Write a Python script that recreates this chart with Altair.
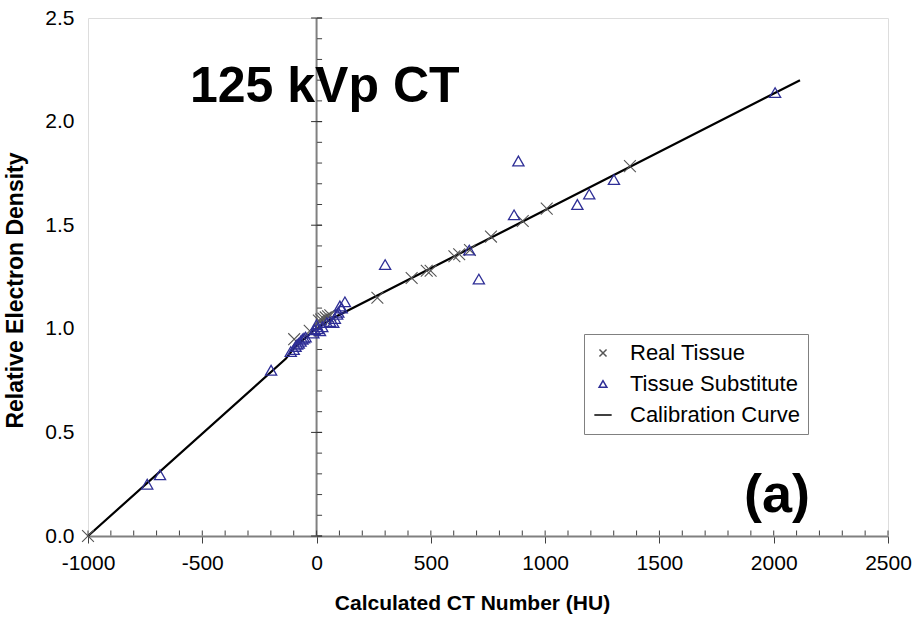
import altair as alt
import pandas as pd

# ---- data ----
rt_hu = [-1000, -98, -30, 10, 20, 30, 40, 50, 60, 266, 416, 482, 499, 603, 624, 671, 763, 902, 1007, 1371]
rt_rho = [0.00, 0.95, 0.99, 1.04, 1.045, 1.05, 1.055, 1.06, 1.065, 1.15, 1.245, 1.28, 1.28, 1.35, 1.36, 1.38, 1.445, 1.52, 1.58, 1.785]

ts_hu = [-741, -685, -199, -113, -100, -92, -85, -78, -70, -62, -55, -48, -14, -8, 0, 5, 15, 25,
         45, 59, 73, 80, 90, 95, 102, 110, 124, 300, 668, 710, 864, 883, 1141, 1193, 1301, 2006]
ts_rho = [0.25, 0.295, 0.80, 0.89, 0.90, 0.915, 0.925, 0.93, 0.94, 0.95, 0.955, 0.96, 0.98, 0.995, 1.02, 1.00, 0.99, 1.01,
          1.03, 1.035, 1.03, 1.05, 1.07, 1.08, 1.11, 1.10, 1.13, 1.31, 1.38, 1.24, 1.55, 1.81, 1.60, 1.65, 1.72, 2.14]

cal_hu = [-1000, -135, -100, -20, 60, 2115]
cal_rho = [0.0, 0.855, 0.905, 0.985, 1.045, 2.2]

series_names = ["Real Tissue", "Tissue Substitute", "Calibration Curve"]
x_major = [-1000, -500, 0, 500, 1000, 1500, 2000, 2500]
x_minor = list(range(-1000, 2501, 100))
y_major = [0.0, 0.5, 1.0, 1.5, 2.0, 2.5]
y_minor = [round(i / 10, 1) for i in range(0, 26)]

FONT = "Liberation Sans"
XPATH = "M-1,-1L1,1M1,-1L-1,1"

xs = alt.Scale(domain=[-1000, 2500], nice=False, zero=False)
ys = alt.Scale(domain=[0, 2.5], nice=False, zero=False)

rt = pd.DataFrame({"hu": rt_hu, "rho": rt_rho})
ts = pd.DataFrame({"hu": ts_hu, "rho": ts_rho})
cal = pd.DataFrame({"hu": cal_hu, "rho": cal_rho})

x_enc = alt.X("hu:Q", scale=xs,
              axis=alt.Axis(values=x_major, labelExpr="'' + datum.value", tickSize=7,
                            tickColor="#404040", domainColor="#808080", domainWidth=2, grid=False,
                            labelFontSize=21, labelFont=FONT, labelColor="black",
                            labelPadding=9, labelFlush=False,
                            title="Calculated CT Number (HU)", titleFont=FONT,
                            titleFontSize=21, titleFontWeight="bold", titleColor="black",
                            titlePadding=19, titleX=384))
y_enc = alt.Y("rho:Q", scale=ys,
              axis=alt.Axis(values=y_major, format=".1f", ticks=False, domain=False, grid=False,
                            labelFontSize=21, labelFont=FONT, labelColor="black",
                            labelPadding=14, labelFlush=False,
                            title="Relative Electron Density", titleFont=FONT,
                            titleFontSize=23, titleFontWeight="bold", titleColor="black",
                            titlePadding=17, titleY=272))

# vertical axis line at HU = 0
vline = alt.Chart(pd.DataFrame({"hu": [0], "lo": [0.0], "hi": [2.5]})).mark_rule(
    color="#808080", strokeWidth=2).encode(
    x=alt.X("hu:Q", scale=xs), y=alt.Y("lo:Q", scale=ys), y2="hi:Q")

ymin_df = pd.DataFrame({"rho": y_minor, "hu": [0] * len(y_minor)})
ymin = alt.Chart(ymin_df).mark_tick(orient="horizontal", size=5, thickness=1,
                                    color="#404040", xOffset=3, opacity=1).encode(
    x=alt.X("hu:Q", scale=xs), y=alt.Y("rho:Q", scale=ys))
ymaj_df = pd.DataFrame({"rho": y_major, "hu": [0] * len(y_major)})
ymaj = alt.Chart(ymaj_df).mark_tick(orient="horizontal", size=11, thickness=1,
                                    color="#303030", opacity=1).encode(
    x=alt.X("hu:Q", scale=xs), y=alt.Y("rho:Q", scale=ys))

xmin_df = pd.DataFrame({"hu": x_minor, "rho": [0.0] * len(x_minor)})
xmin = alt.Chart(xmin_df).mark_tick(orient="vertical", size=5, thickness=1,
                                    color="#404040", yOffset=-3, opacity=1).encode(
    x=alt.X("hu:Q", scale=xs), y=alt.Y("rho:Q", scale=ys))

line = alt.Chart(cal).mark_line(color="black", strokeWidth=2.2).encode(
    x=x_enc, y=y_enc, order="hu:Q")

rt_pts = alt.Chart(rt).mark_point(shape=XPATH, size=140, color="#555555", opacity=1,
                                  filled=False, strokeWidth=1.1).encode(
    x=alt.X("hu:Q", scale=xs), y=alt.Y("rho:Q", scale=ys))
ts_pts = alt.Chart(ts).mark_point(shape="triangle-up", size=125, color="#2e2e96", opacity=1,
                                  filled=False, strokeWidth=1.3).encode(
    x=alt.X("hu:Q", scale=xs), y=alt.Y("rho:Q", scale=ys))

# legend-only layer (rows filtered out; legend comes from the scales)
leg_df = pd.DataFrame({"series": series_names, "hu": [0, 0, 0], "rho": [0.0, 0.0, 0.0]})
legend_layer = alt.Chart(leg_df).transform_filter("false").mark_point(
    filled=False, strokeWidth=1.5, opacity=1).encode(
    x=alt.X("hu:Q", scale=xs), y=alt.Y("rho:Q", scale=ys),
    color=alt.Color("series:N",
                    scale=alt.Scale(domain=series_names, range=["#555555", "#2e2e96", "#000000"]),
                    legend=alt.Legend(title=None, orient="none", legendX=496, legendY=316,
                                      padding=8, strokeColor="#808080", fillColor="white",
                                      labelFontSize=22, labelFont=FONT, labelColor="black",
                                      labelLimit=400, labelOffset=16, rowPadding=9,
                                      symbolStrokeWidth=1.5)),
    shape=alt.Shape("series:N",
                    scale=alt.Scale(domain=series_names, range=[XPATH, "triangle-up", "stroke"]),
                    legend=alt.Legend(title=None, orient="none", legendX=496, legendY=316)),
    size=alt.Size("series:N",
                  scale=alt.Scale(type="ordinal", domain=series_names, range=[50, 60, 300]),
                  legend=alt.Legend(title=None, orient="none", legendX=496, legendY=316)),
)

title_txt = alt.Chart(pd.DataFrame({"t": ["125 kVp CT"]})).mark_text(
    align="left", baseline="alphabetic", font=FONT, fontSize=50, fontWeight="bold",
    color="black").encode(x=alt.value(102), y=alt.value(84), text="t:N")
tag_txt = alt.Chart(pd.DataFrame({"t": ["(a)"]})).mark_text(
    align="left", baseline="alphabetic", font=FONT, fontSize=54, fontWeight="bold",
    color="black").encode(x=alt.value(656), y=alt.value(494), text="t:N")

chart = alt.layer(line, vline, ymin, ymaj, xmin, rt_pts, ts_pts, legend_layer,
                  title_txt, tag_txt).properties(
    width=800, height=518,
    autosize=alt.AutoSizeParams(type="none"),
    padding={"left": 88, "top": 18, "right": 31, "bottom": 84},
).configure_view(stroke="#999999", strokeWidth=1).configure(background="white")

chart.save("out.html", embed_options={"renderer": "svg", "actions": False})
